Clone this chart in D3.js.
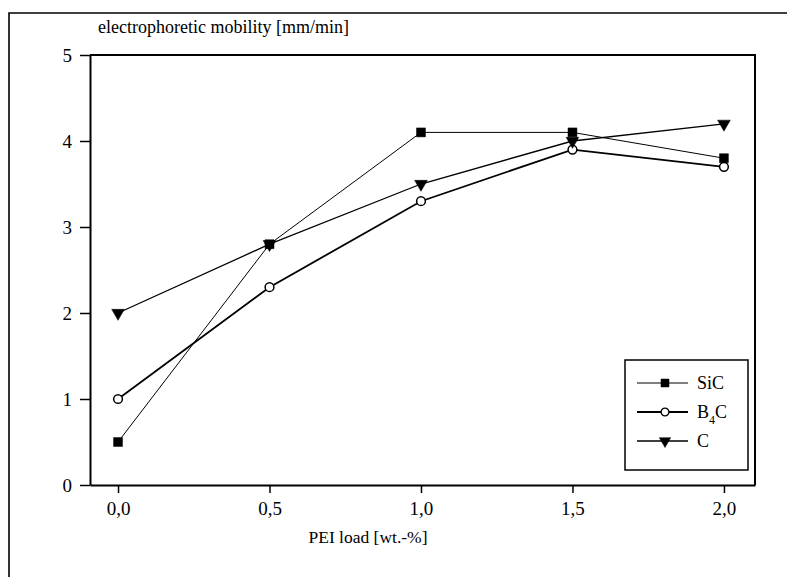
<!DOCTYPE html>
<html>
<head>
<meta charset="utf-8">
<script src="https://cdn.jsdelivr.net/npm/d3@7"></script>
<style>
  body { margin: 0; background: #fff; }
  svg { display: block; font-family: "Liberation Serif", "Times New Roman", serif; }
</style>
</head>
<body>
<div class="chart"><svg></svg></div>
<script>
const loads = [0.0, 0.5, 1.0, 1.5, 2.0];
const sicValues = [0.5, 2.8, 4.1, 4.1, 3.8];
const b4cValues = [1.0, 2.3, 3.3, 3.9, 3.7];
const cValues = [2.0, 2.8, 3.5, 4.0, 4.2];
const xTickLabels = ["0,0", "0,5", "1,0", "1,5", "2,0"];
const yTicks = [0, 1, 2, 3, 4, 5];

width = 787;
height = 577;

margin = ({top: 55, right: 32, bottom: 92, left: 90})

const serif = "Liberation Serif";

const series = [
  {name: "SiC", values: sicValues, symbol: d3.symbolSquare, size: 80, fill: "#000", lw: 1},
  {name: "B4C", values: b4cValues, symbol: d3.symbolCircle, size: 60, fill: "#fff", lw: 1.8},
  {name: "C", values: cValues, symbol: d3.symbolTriangle, size: 70, fill: "#000", lw: 1.3, rotate: 180}
];

const svg = d3.select(".chart > svg")
    .attr("width", width)
    .attr("height", height);

// outer frame (cut off on right and bottom)
svg.append("path")
    .attr("d", `M9,${height + 5}V13H${width + 5}`)
    .attr("fill", "none")
    .attr("stroke", "#000")
    .attr("stroke-width", 1.6);

x = d3.scaleLinear()
    .domain([-0.0925, 2.1025])
    .range([margin.left, width - margin.right]);

y = d3.scaleLinear()
    .domain([0, 5])
    .range([height - margin.bottom, margin.top]);

// plot box top + right
svg.append("path")
    .attr("d", `M${x.range()[0]},${y(5)}H${x.range()[1]}V${y(0)}`)
    .attr("fill", "none")
    .attr("stroke", "#000")
    .attr("stroke-width", 2);

const xAxis = g => g
    .attr("transform", `translate(0,${y(0)})`)
    .call(d3.axisBottom(x).tickValues(loads).tickSize(8).tickSizeOuter(0)
      .tickFormat((d, i) => xTickLabels[i]))
    .call(g => g.select(".domain").attr("stroke-width", 2))
    .call(g => g.selectAll(".tick line").attr("stroke-width", 1.5))
    .call(g => g.selectAll(".tick text").attr("dy", "1.0em"));

const yAxis = g => g
    .attr("transform", `translate(${margin.left},0)`)
    .call(d3.axisLeft(y).tickValues(yTicks).tickSize(10).tickSizeOuter(0).tickFormat(d3.format("d")))
    .call(g => g.select(".domain").attr("stroke-width", 2))
    .call(g => g.selectAll(".tick line").attr("stroke-width", 1.5))
    .call(g => g.selectAll(".tick text").attr("x", -18));

svg.append("g").call(xAxis);
svg.append("g").call(yAxis);
svg.selectAll(".tick text")
    .attr("fill", "#000")
    .attr("font-family", serif)
    .attr("font-size", 19);

const line = d3.line()
    .x((d, i) => x(loads[i]))
    .y(d => y(d));

series.forEach(s => {
  svg.append("path")
      .datum(s.values)
      .attr("fill", "none")
      .attr("stroke", "#000")
      .attr("stroke-width", s.lw)
      .attr("d", line);
});

series.forEach(s => {
  svg.append("g")
    .selectAll("path")
    .data(s.values)
    .join("path")
      .attr("transform", (d, i) => `translate(${x(loads[i])},${y(d)}) rotate(${s.rotate || 0})`)
      .attr("d", d3.symbol(s.symbol, s.size))
      .attr("fill", s.fill)
      .attr("stroke", "#000")
      .attr("stroke-width", s.fill == "#fff" ? 1.5 : 0.5);
});

// legend
const legend = svg.append("g").attr("transform", "translate(625,360)");
legend.append("rect")
    .attr("width", 123)
    .attr("height", 110)
    .attr("fill", "#fff")
    .attr("stroke", "#000")
    .attr("stroke-width", 1.5);

series.forEach((s, i) => {
  const row = legend.append("g").attr("transform", `translate(0,${23 + i * 29})`);
  row.append("line")
      .attr("x1", 12).attr("x2", 63)
      .attr("stroke", "#000").attr("stroke-width", s.lw);
  row.append("path")
      .attr("transform", `translate(40,0) rotate(${s.rotate || 0})`)
      .attr("d", d3.symbol(s.symbol, s.size * 0.8))
      .attr("fill", s.fill)
      .attr("stroke", "#000")
      .attr("stroke-width", s.fill == "#fff" ? 1.3 : 0.5);
  const t = row.append("text")
      .attr("x", 72)
      .attr("dy", "0.35em")
      .attr("font-family", serif)
      .attr("font-size", 18);
  if (s.name == "B4C") {
    t.append("tspan").text("B");
    t.append("tspan").attr("font-size", 12).attr("dy", "0.45em").text("4");
    t.append("tspan").attr("dy", "-0.3em").text("C");
  } else {
    t.text(s.name);
  }
});

// axis titles
svg.append("text")
    .attr("x", 98)
    .attr("y", 33)
    .attr("font-family", serif)
    .attr("font-size", 18)
    .text("electrophoretic mobility [mm/min]");

svg.append("text")
    .attr("x", 368)
    .attr("y", 543)
    .attr("text-anchor", "middle")
    .attr("font-family", serif)
    .attr("font-size", 17.5)
    .text("PEI load [wt.-%]");
</script>
</body>
</html>
